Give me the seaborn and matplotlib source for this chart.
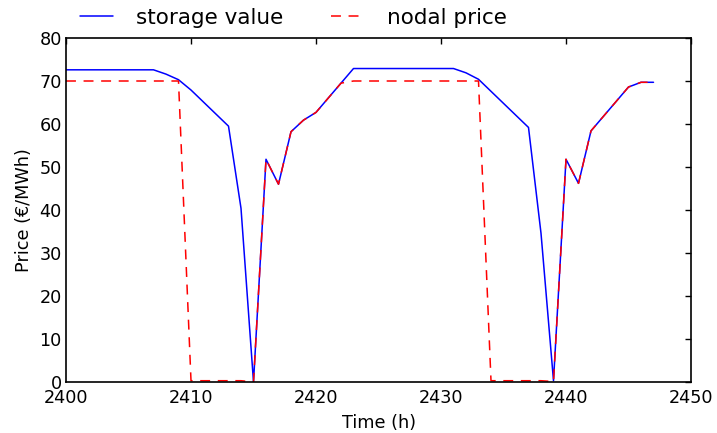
import numpy as np
import pandas as pd
import matplotlib
matplotlib.use("Agg")
import matplotlib.pyplot as plt
import seaborn as sns

hours = list(range(2400, 2448))
storage_value = [72.6] * 8 + [71.6, 70.3, 67.9, 65.1, 62.3, 59.5, 40.4, 0.0,
                              51.8, 46.0, 58.2, 60.9, 62.7, 66.1, 69.5] \
    + [72.9] * 9 + [71.9, 70.4, 67.6, 64.8, 62.0, 59.2, 34.6, 0.3,
                    51.8, 46.2, 58.4, 61.8, 65.2, 68.6, 69.7, 69.7]
nodal_price = [70.0] * 10 + [0.3] * 5 + [0.0, 51.8, 46.0, 58.2, 60.9, 62.7, 66.1, 69.5] \
    + [70.0] * 11 + [0.3] * 5 + [0.1, 51.8, 46.2, 58.4, 61.8, 65.2, 68.6, 69.7, 69.7]

x_ticks = [2400, 2410, 2420, 2430, 2440, 2450]
y_ticks = [0, 10, 20, 30, 40, 50, 60, 70, 80]

df = pd.DataFrame({"hour": hours, "storage": storage_value, "nodal": nodal_price})

sns.set_style("white")
plt.rcParams["font.family"] = ["DejaVu Sans"]
plt.rcParams.update({
    "xtick.direction": "in", "ytick.direction": "in",
    "xtick.top": True, "ytick.right": True,
    "xtick.major.size": 4, "ytick.major.size": 4,
    "xtick.major.width": 1, "ytick.major.width": 1,
    "axes.linewidth": 1.2, "axes.edgecolor": "black",
    "text.color": "black", "axes.labelcolor": "black",
    "xtick.color": "black", "ytick.color": "black",
})

fig = plt.figure(figsize=(7.17, 4.33), dpi=100)
ax = fig.add_axes([66 / 717, 1 - 382 / 433, (691 - 66) / 717, (382 - 38) / 433])

sns.lineplot(data=df, x="hour", y="storage", ax=ax, color=(0, 0, 1), linewidth=1.1,
             label="storage value")
sns.lineplot(data=df, x="hour", y="nodal", ax=ax, color=(1, 0, 0), linewidth=1.1,
             linestyle=(0, (6.5, 5)), label="nodal price")

ax.set_xlim(2400, 2450)
ax.set_ylim(0, 80)
ax.set_xticks(x_ticks)
ax.set_yticks(y_ticks)
ax.tick_params(labelsize=12.7, colors="black")
ax.tick_params(axis="x", pad=5)
ax.tick_params(axis="y", pad=3)
ax.set_xlabel("Time (h)", fontsize=12.7, labelpad=5)
ax.set_ylabel("Price (€/MWh)", fontsize=12.7, labelpad=5)
for s in ax.spines.values():
    s.set_visible(True)
    s.set_color("black")

ax.legend_.remove()
h, l = ax.get_legend_handles_labels()
fig.legend(h, l, loc="center left", bbox_to_anchor=(80 / 717, 1 - 17.7 / 433),
           ncol=2, frameon=False, fontsize=15.5, borderpad=0, borderaxespad=0,
           handlelength=1.53, handletextpad=1.07, columnspacing=2.23)

fig.savefig("out.png", dpi=100)
